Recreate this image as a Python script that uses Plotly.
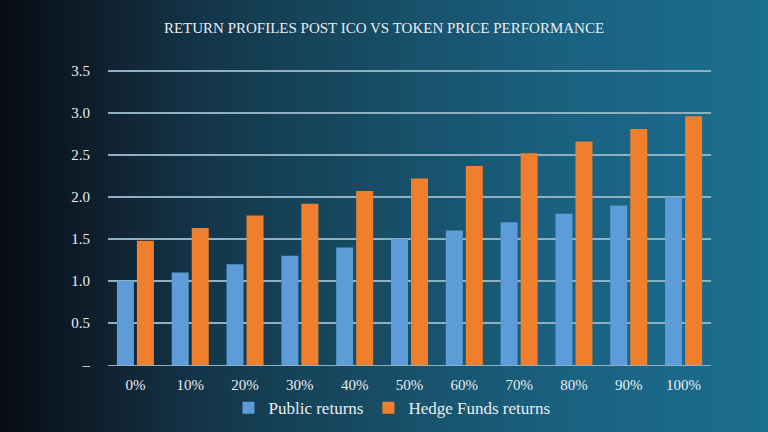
import base64, struct, zlib
import plotly.graph_objects as go

categories = ["0%", "10%", "20%", "30%", "40%", "50%", "60%", "70%", "80%", "90%", "100%"]
public_returns = [1.0, 1.1, 1.2, 1.3, 1.4, 1.5, 1.6, 1.7, 1.8, 1.9, 2.0]
hedge_returns = [1.48, 1.63, 1.78, 1.92, 2.07, 2.22, 2.37, 2.52, 2.66, 2.81, 2.96]
y_tickvals = [0, 0.5, 1.0, 1.5, 2.0, 2.5, 3.0, 3.5]
y_ticktext = ["–", "0.5", "1.0", "1.5", "2.0", "2.5", "3.0", "3.5"]

# background gradient as tiny PNG
stops = [(0.0, (8, 12, 20)), (0.1, (13, 28, 40)), (0.27, (20, 55, 75)),
         (0.5, (23, 78, 102)), (0.73, (26, 97, 128)), (1.0, (28, 110, 142))]
W = 256
row = bytearray([0])
for i in range(W):
    t = i / (W - 1)
    for j in range(len(stops) - 1):
        if stops[j][0] <= t <= stops[j + 1][0]:
            a, ca = stops[j]; b, cb = stops[j + 1]
            f = (t - a) / (b - a)
            row += bytes(int(round(ca[k] + (cb[k] - ca[k]) * f)) for k in range(3))
            break
def chunk(tag, data):
    c = struct.pack(">I", len(data)) + tag + data
    return c + struct.pack(">I", zlib.crc32(tag + data) & 0xffffffff)
png = b"\x89PNG\r\n\x1a\n" + chunk(b"IHDR", struct.pack(">IIBBBBB", W, 1, 8, 2, 0, 0, 0)) \
      + chunk(b"IDAT", zlib.compress(bytes(row))) + chunk(b"IEND", b"")
bg = "data:image/png;base64," + base64.b64encode(png).decode()

WIDTH, HEIGHT = 768, 432
ML, MR, MT, MB = 108, 57, 69, 67
PW, PH = WIDTH - ML - MR, HEIGHT - MT - MB
PX_PER_UNIT = 84.0  # 3.5 units -> 294 px

font = "Liberation Serif, DejaVu Serif, serif"
fig = go.Figure()
fig.add_trace(go.Bar(x=categories, y=public_returns, name="Public returns",
                     marker=dict(color="#5d9cd8", line=dict(width=0))))
fig.add_trace(go.Bar(x=categories, y=hedge_returns, name="Hedge Funds returns",
                     marker=dict(color="#f07f2d", line=dict(width=0))))

fig.update_layout(
    width=WIDTH, height=HEIGHT,
    paper_bgcolor="#174e66", plot_bgcolor="rgba(0,0,0,0)",
    images=[dict(source=bg, xref="paper", yref="paper",
                 x=-ML / PW, y=1 + MT / PH, sizex=WIDTH / PW, sizey=HEIGHT / PH,
                 xanchor="left", yanchor="top", sizing="stretch", layer="below")],
    margin=dict(l=ML, r=MR, t=MT, b=MB, autoexpand=False),
    title=dict(text="RETURN PROFILES POST ICO VS TOKEN PRICE PERFORMANCE",
               x=0.5, xanchor="center", y=1 - 28 / HEIGHT, yanchor="middle",
               font=dict(family=font, size=15, color="#e8eef2")),
    barmode="group", bargap=0.27, bargroupgap=0.15,
    font=dict(family=font, color="#e8eef2", size=14),
    legend=dict(orientation="h", x=0.471, xanchor="center", y=-0.085, yanchor="top",
                font=dict(size=17, color="#e8eef2"), bgcolor="rgba(0,0,0,0)",
                itemwidth=30, traceorder="normal"),
    showlegend=True,
)
fig.update_xaxes(showgrid=False, showline=True, linecolor="#8fb0c2", linewidth=1,
                 ticks="", ticklabelstandoff=6, tickfont=dict(size=15, color="#e8eef2"))
fig.update_yaxes(range=[0, PH / PX_PER_UNIT], tickvals=y_tickvals, ticktext=y_ticktext,
                 showgrid=True, gridcolor="#8fb0c2", gridwidth=1.5, zeroline=False,
                 ticks="", ticklabelstandoff=17, tickfont=dict(size=15, color="#e8eef2"))
fig.write_html("out.html", config={"displayModeBar": False},
               post_script="document.body.style.margin='0';")
